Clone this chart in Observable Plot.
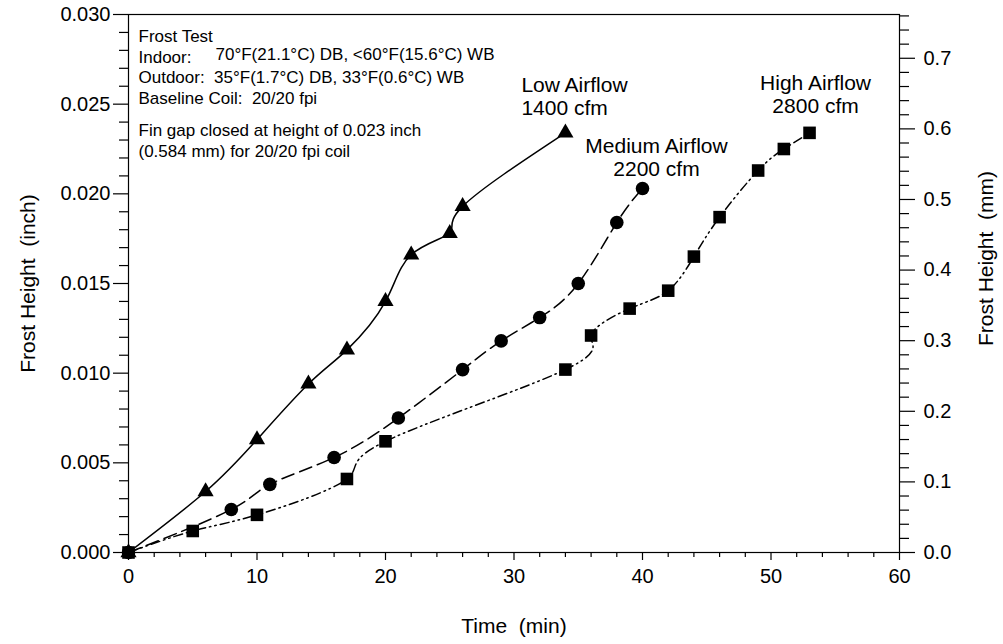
<!DOCTYPE html>
<html>
<head>
<meta charset="utf-8">
<script src="https://cdn.jsdelivr.net/npm/d3@7"></script>
<script src="https://cdn.jsdelivr.net/npm/@observablehq/plot@0.6"></script>
<style>
  html, body { margin: 0; padding: 0; background: #fff; }
  #chart svg { display: block; }
</style>
</head>
<body>
<div id="chart"></div>
<script>
// Frost growth on the baseline 20/20 fpi coil at three airflow rates
const lowTime    = [0, 6, 10, 14, 17, 20, 22, 25, 26, 34];
const lowHeight  = [0, 0.0034, 0.0063, 0.0094, 0.0113, 0.0140, 0.0166, 0.0178, 0.0193, 0.0234];
const medTime    = [0, 8, 11, 16, 21, 26, 29, 32, 35, 38, 40];
const medHeight  = [0, 0.0024, 0.0038, 0.0053, 0.0075, 0.0102, 0.0118, 0.0131, 0.0150, 0.0184, 0.0203];
const highTime   = [0, 5, 10, 17, 20, 34, 36, 39, 42, 44, 46, 49, 51, 53];
const highHeight = [0, 0.0012, 0.0021, 0.0041, 0.0062, 0.0102, 0.0121, 0.0136, 0.0146, 0.0165, 0.0187, 0.0213, 0.0225, 0.0234];

const seriesNames = ["Low Airflow\n1400 cfm", "Medium Airflow\n2200 cfm", "High Airflow\n2800 cfm"];

// Axis ticks
const xTicks = [0, 10, 20, 30, 40, 50, 60];
const yTicksInch = [0, 0.005, 0.010, 0.015, 0.020, 0.025, 0.030];
const yTicksMm = [0, 0.1, 0.2, 0.3, 0.4, 0.5, 0.6, 0.7];
const MM_PER_INCH = 25.4;

// Test conditions
const conditionLines = ["Frost Test", "Indoor:", "Outdoor:  35°F(1.7°C) DB, 33°F(0.6°C) WB", "Baseline Coil:  20/20 fpi"];
const indoorValues = "70°F(21.1°C) DB, <60°F(15.6°C) WB";
const finGapLines = ["Fin gap closed at height of 0.023 inch", "(0.584 mm) for 20/20 fpi coil"];

const xTitle = "Time  (min)";
const yTitleLeft = "Frost Height  (inch)";
const yTitleRight = "Frost Height  (mm)";

// keep doubled spaces visible in SVG text
const keepSpaces = s => s.replace(/  /g, "\u00a0\u00a0");

const toRows = (t, h) => t.map((d, i) => ({time: d, height: h[i]}));
const low = toRows(lowTime, lowHeight);
const med = toRows(medTime, medHeight);
const high = toRows(highTime, highHeight);

const minorX = d3.range(0, 61, 2).filter(d => d % 10 !== 0);
const minorYInch = d3.range(1, 30).filter(d => d % 5 !== 0).map(d => d / 1000);
const minorYMm = d3.range(1, 39).filter(d => d % 5 !== 0).map(d => d * 0.02 / MM_PER_INCH);

const font = "'Liberation Sans', Arial, Helvetica, sans-serif";
const curve = "natural";
const noteSize = 17;

const chart = Plot.plot({
  width: 1003,
  height: 644,
  marginLeft: 128,
  marginRight: 104,
  marginTop: 14,
  marginBottom: 92,
  style: {fontFamily: font, fontSize: "20px", color: "#000", background: "#fff", overflow: "visible"},
  x: {domain: [0, 60]},
  y: {domain: [0, 0.030]},
  marks: [
    Plot.frame({stroke: "#000", strokeWidth: 1.2}),

    // bottom axis
    Plot.axisX(xTicks, {anchor: "bottom", tickSize: 8, tickPadding: 8, label: null, fontSize: 20, strokeWidth: 1.2}),
    Plot.axisX(minorX, {anchor: "bottom", tickSize: 5, tickFormat: () => "", label: null, strokeWidth: 1.2}),

    // left axis (inch)
    Plot.axisY(yTicksInch, {anchor: "left", tickSize: 15, tickPadding: 3, tickFormat: d3.format(".3f"), label: null, fontSize: 20, strokeWidth: 1.2}),
    Plot.axisY(minorYInch, {anchor: "left", tickSize: 9, tickFormat: () => "", label: null, strokeWidth: 1.2}),

    // right axis (mm)
    Plot.axisY(yTicksMm.map(d => d / MM_PER_INCH), {anchor: "right", tickSize: 15, tickPadding: 9, tickFormat: d => (d * MM_PER_INCH).toFixed(1), label: null, fontSize: 20, strokeWidth: 1.2}),
    Plot.axisY(minorYMm, {anchor: "right", tickSize: 9, tickFormat: () => "", label: null, strokeWidth: 1.2}),

    // axis titles
    Plot.text([xTitle], {text: d => keepSpaces(d), frameAnchor: "bottom", textAnchor: "middle", dy: 80, lineAnchor: "bottom", fontSize: 21}),
    Plot.text([yTitleLeft], {text: d => keepSpaces(d), frameAnchor: "left", textAnchor: "middle", rotate: -90, dx: -100, lineAnchor: "middle", fontSize: 21}),
    Plot.text([yTitleRight], {text: d => keepSpaces(d), frameAnchor: "right", textAnchor: "middle", rotate: -90, dx: 87, dy: -25, lineAnchor: "middle", fontSize: 21}),

    // series curves
    Plot.line(low, {x: "time", y: "height", curve, stroke: "#000", strokeWidth: 1.5}),
    Plot.line(med, {x: "time", y: "height", curve, stroke: "#000", strokeWidth: 1.5, strokeDasharray: "13,6"}),
    Plot.line(high, {x: "time", y: "height", curve, stroke: "#000", strokeWidth: 1.5, strokeDasharray: "9,4,1.5,4,1.5,4"}),

    // series markers
    Plot.dot(low, {x: "time", y: "height", symbol: "triangle", r: 6, fill: "#000", stroke: "none"}),
    Plot.dot(med, {x: "time", y: "height", symbol: "circle", r: 6.8, fill: "#000", stroke: "none"}),
    Plot.dot(high, {x: "time", y: "height", symbol: "square", r: 7.1, fill: "#000", stroke: "none"}),

    // series labels, placed relative to each curve's last point
    Plot.text(low.slice(-1), {x: "time", y: "height", text: () => seriesNames[0], textAnchor: "start", lineAnchor: "bottom", lineHeight: 1.1, dx: -44, dy: -18, fontSize: 21}),
    Plot.text(med.slice(-1), {x: "time", y: "height", text: () => seriesNames[1], textAnchor: "middle", lineAnchor: "bottom", lineHeight: 1.1, dx: 14, dy: -12, fontSize: 21}),
    Plot.text(high.slice(-1), {x: "time", y: "height", text: () => seriesNames[2], textAnchor: "middle", lineAnchor: "bottom", lineHeight: 1.1, dx: 6, dy: -20, fontSize: 21}),

    // test conditions note
    Plot.text([conditionLines.map(keepSpaces).join("\n")], {frameAnchor: "top-left", textAnchor: "start", lineAnchor: "top", dx: 10, dy: 13, lineHeight: 20.5 / noteSize, fontSize: noteSize}),
    Plot.text([indoorValues], {frameAnchor: "top-left", textAnchor: "start", lineAnchor: "top", dx: 87, dy: 13 + 20.5, fontSize: noteSize}),
    Plot.text([finGapLines.join("\n")], {frameAnchor: "top-left", textAnchor: "start", lineAnchor: "top", dx: 10, dy: 106, lineHeight: 21.5 / noteSize, fontSize: noteSize})
  ]
});

document.getElementById("chart").append(chart);
</script>
</body>
</html>
